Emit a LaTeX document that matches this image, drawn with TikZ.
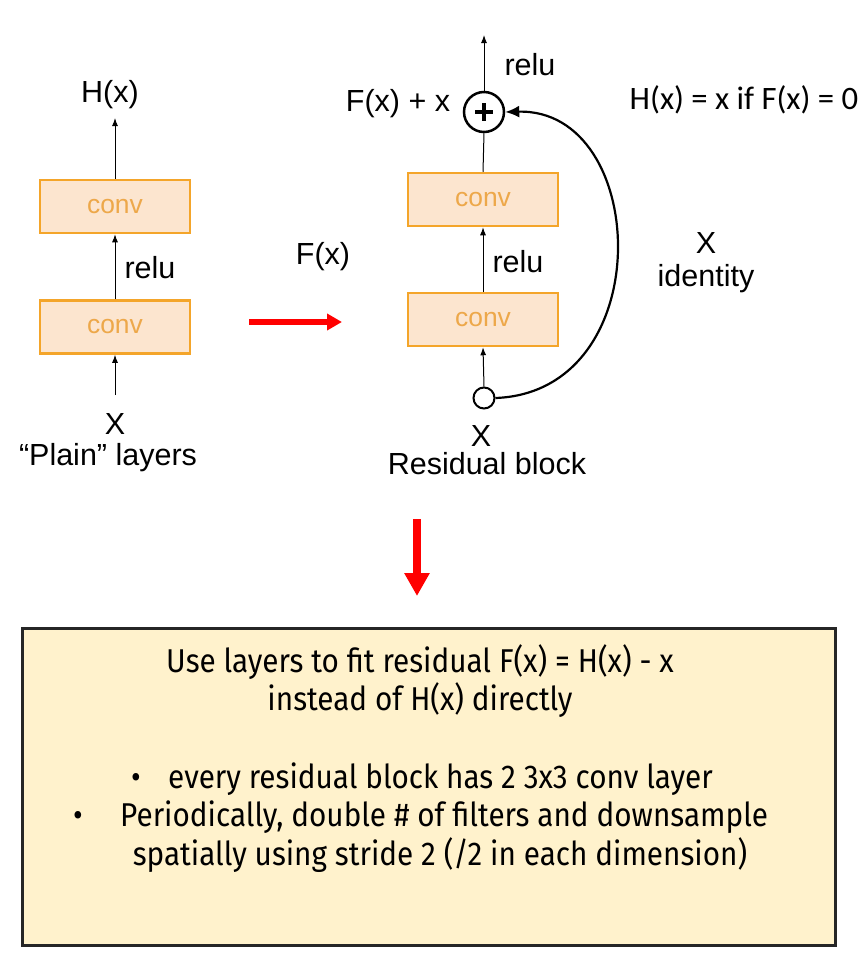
\documentclass[tikz,border=0pt]{standalone}
\usepackage{fontspec}
\setmainfont{Liberation Sans}
\newfontfamily\calib{Carlito}
\newfontfamily\boxfont{Fira Sans}[FakeStretch=0.90]
\usetikzlibrary{arrows.meta,calc}
\definecolor{convfill}{HTML}{FCE5CF}
\definecolor{convdraw}{HTML}{F4A52A}
\definecolor{convtext}{HTML}{EDA84A}
\definecolor{notefill}{HTML}{FFF2CC}
\definecolor{notedraw}{HTML}{262626}
\begin{document}
\begin{tikzpicture}[x=1pt,y=-1pt,
  lbl/.style={font=\fontsize{30.5}{34}\selectfont, inner sep=0pt},
  convbox/.style={draw=convdraw, line width=2.5pt, fill=convfill, minimum width=150pt, minimum height=53pt, inner sep=0pt, text=convtext, font=\fontsize{26.4}{30}\selectfont},
  arr/.style={-{Latex[length=8pt,width=6pt]}, line width=1pt},
  curvarr/.style={-{Latex[length=14pt,width=12pt]}, line width=2.2pt},
  redarr/.style={draw=red, line width=6pt, -{Triangle[length=15pt,width=16pt]}},
  redarrb/.style={draw=red, line width=8pt, -{Triangle[length=23pt,width=24pt]}},
  txt/.style={font=\boxfont\fontsize{33}{38}\selectfont, inner sep=0pt, anchor=base}
]
\useasboundingbox (0,0) rectangle (867,961);

% ---------- plain layers ----------
\node[convbox] (c1) at (115,327) {conv};
\node[convbox] (c2) at (115,206.5) {conv};
\coordinate (pin) at (115,395);
\coordinate (pout) at (115,118);
\draw[arr] (pin) -- (c1.south);
\draw[arr] (c1.north) -- (c2.south);
\draw[arr] (c2.north) -- (pout);
\node[lbl] (hx) at (110,95) {H(x)};
\node[lbl] (relu1) at (150,268) {relu};
\node[lbl, anchor=base, text depth=0pt] (xl) at (115,434) {X};
\node[lbl] (plain) at (108,458) {“Plain” layers};

% ---------- red arrows ----------
\coordinate (ra1) at (249,322);
\coordinate (ra2) at (342,322);
\draw[redarr] (ra1) -- (ra2);
\coordinate (rb1) at (417,519);
\coordinate (rb2) at (417,596);
\draw[redarrb] (rb1) -- (rb2);

\node[lbl] (fx) at (323,257) {F(x)};

% ---------- residual block ----------
\node[convbox] (r1) at (483,319.5) {conv};
\node[convbox] (r2) at (483,199.5) {conv};
\node[circle, draw, line width=2.5pt, minimum size=40pt, inner sep=0pt, fill=white] (plus) at (484,112) {};
\draw[line width=4pt] ($(plus.center)+(-9,0)$) -- ($(plus.center)+(9,0)$);
\draw[line width=4pt] ($(plus.center)+(0,-9)$) -- ($(plus.center)+(0,9)$);
\node[circle, draw, line width=2pt, minimum size=21pt, inner sep=0pt, fill=white] (xin) at (484,398) {};
\coordinate (rout) at (484,35);
\draw[arr] (plus.north) -- (rout);
\draw[line width=1pt] (r2.north) -- (plus.south);
\draw[arr] (r1.north) -- (r2.south);
\draw[arr] (xin.north) -- (r1.south);
\draw[curvarr] (xin.east) .. controls (660,392) and (650,108) .. (plus.east);

\node[lbl] (relu2) at (530,65) {relu};
\node[lbl] (fxx) at (398,104) {F(x) + x};
\node[lbl] (relu3) at (518,262) {relu};
\node[lbl, anchor=base, text depth=0pt] (xr) at (481,446) {X};
\node[lbl, anchor=base] (resid) at (487,474) {Residual block};
\node[lbl] (xid) at (706,243) {X};
\node[lbl] (ident) at (706,279) {identity};
\node[font=\calib\fontsize{32.7}{36}\selectfont, inner sep=0pt] (eq) at (744,100) {H(x) = x if F(x) = 0};

% ---------- note box ----------
\draw[fill=notefill, draw=notedraw, line width=3pt] (22,628) rectangle (835,945);
\node[txt] (t1) at (420,672) {Use layers to fit residual F(x) = H(x) - x};
\node[txt] (t2) at (420,710) {instead of H(x) directly};
\node[txt] (b1) at (136,788) {•};
\node[txt, anchor=base west] (t3) at (168,788) {every residual block has 2 3x3 conv layer};
\node[txt] (b2) at (78,826) {•};
\node[txt, anchor=base west] (t4) at (120,826) {Periodically, double \# of filters and downsample};
\node[txt] (t5) at (440,865) {spatially using stride 2 (/2 in each dimension)};
\end{tikzpicture}
\end{document}
